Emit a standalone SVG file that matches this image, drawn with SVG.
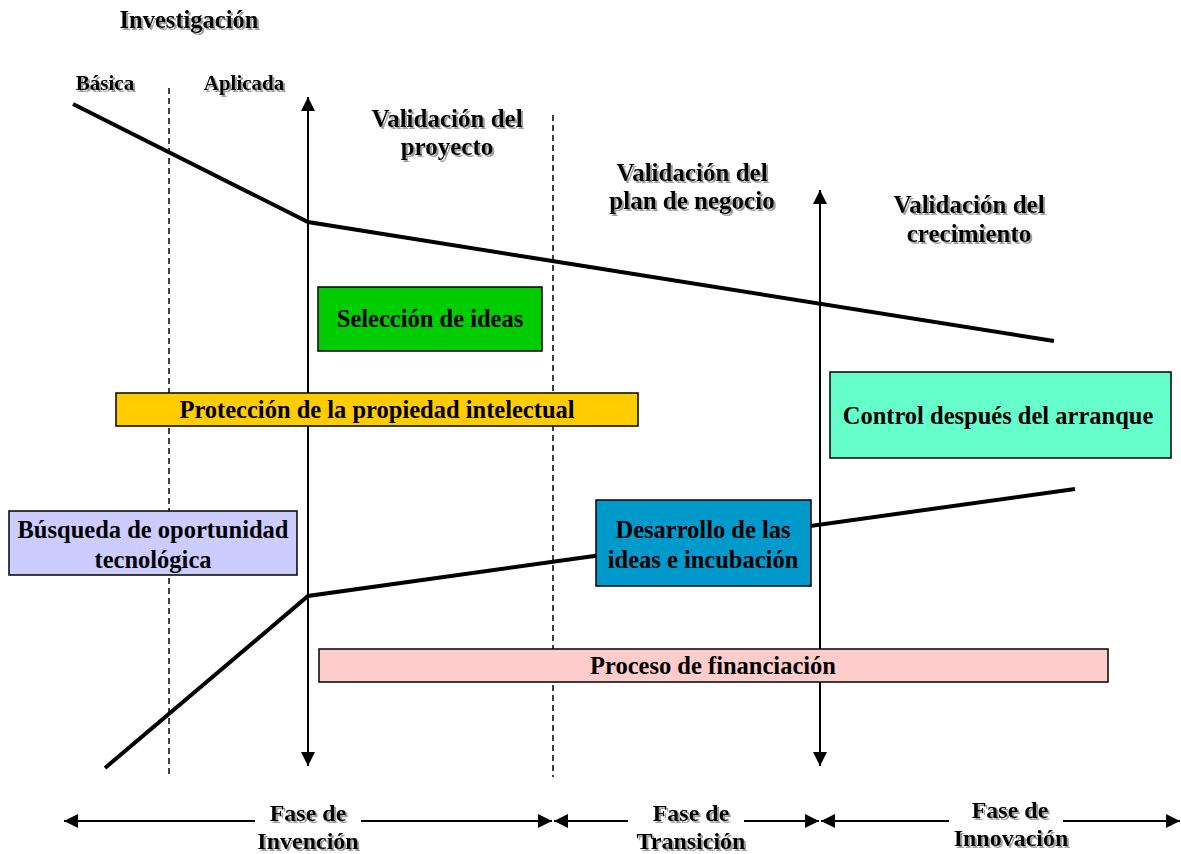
<svg xmlns="http://www.w3.org/2000/svg" width="1181" height="854" viewBox="0 0 1181 854">
<defs>
<style>
.t{font-family:"Liberation Serif","Times New Roman",serif;font-weight:bold;fill:#000;text-anchor:middle}
.sh{filter:url(#shadow)}
.box{stroke:#000;stroke-width:1.5}
.thick{fill:none;stroke:#000;stroke-width:4}
.dash{stroke:#000;stroke-width:1.5;stroke-dasharray:6 4}
.ax{stroke:#000;stroke-width:2;fill:none}
.bt{font-size:24.5px}
</style>
<filter id="shadow" x="-10%" y="-20%" width="130%" height="150%">
<feDropShadow dx="2" dy="2" stdDeviation="0.6" flood-color="#888" flood-opacity="0.8"/>
</filter>
<marker id="ah" viewBox="0 0 10 10" refX="10" refY="5" markerWidth="7" markerHeight="7" markerUnits="strokeWidth" orient="auto-start-reverse">
<path d="M0,0 L10,5 L0,10 z" fill="#000"/>
</marker>
</defs>
<g id="labels">
<text class="t sh" x="189" y="28" font-size="24.5">Investigación</text>
<text class="t sh" x="105" y="90" font-size="21">Básica</text>
<text class="t sh" x="244" y="90" font-size="21">Aplicada</text>
<text class="t sh" x="447" y="127" font-size="25">Validación del</text>
<text class="t sh" x="447" y="155" font-size="25">proyecto</text>
<text class="t sh" x="692" y="181" font-size="25">Validación del</text>
<text class="t sh" x="692" y="209" font-size="25">plan de negocio</text>
<text class="t sh" x="969" y="213" font-size="25">Validación del</text>
<text class="t sh" x="969" y="242" font-size="25">crecimiento</text>
</g>
<g id="connectors">
<line class="dash" x1="169" y1="88" x2="169" y2="778"/>
<line class="dash" x1="553" y1="115" x2="553" y2="777"/>
<line class="ax" x1="308" y1="97" x2="308" y2="766" marker-start="url(#ah)" marker-end="url(#ah)"/>
<line class="ax" x1="820" y1="190" x2="820" y2="766" marker-start="url(#ah)" marker-end="url(#ah)"/>
<polyline class="thick" points="73,104 308,222 1054,341"/>
<polyline class="thick" points="105,768 308,596 1075,489"/>
<line class="ax" x1="64" y1="821" x2="255" y2="821" marker-start="url(#ah)"/>
<line class="ax" x1="361" y1="821" x2="552" y2="821" marker-end="url(#ah)"/>
<line class="ax" x1="554" y1="821" x2="628" y2="821" marker-start="url(#ah)"/>
<line class="ax" x1="744" y1="821" x2="819" y2="821" marker-end="url(#ah)"/>
<line class="ax" x1="821" y1="821" x2="949" y2="821" marker-start="url(#ah)"/>
<line class="ax" x1="1063" y1="821" x2="1180" y2="821" marker-end="url(#ah)"/>
</g>
<g id="seleccion">
<rect class="box" x="318" y="287" width="224" height="64" fill="#00CC00"/>
<text class="t bt" x="430" y="327">Selección de ideas</text>
</g>
<g id="proteccion">
<rect class="box" x="116" y="393" width="522" height="33" fill="#FFCC00"/>
<text class="t bt" x="377" y="418">Protección de la propiedad intelectual</text>
</g>
<g id="control">
<rect class="box" x="830" y="372" width="341" height="86" fill="#66FFCC"/>
<text class="t bt" x="998" y="424">Control después del arranque</text>
</g>
<g id="busqueda">
<rect class="box" x="9" y="511" width="288" height="64" fill="#CCCCFF"/>
<text class="t bt" x="153" y="538">Búsqueda de oportunidad</text>
<text class="t bt" x="153" y="568">tecnológica</text>
</g>
<g id="desarrollo">
<rect class="box" x="596" y="500" width="215" height="86" fill="#0099CC"/>
<text class="t bt" x="703" y="538">Desarrollo de las</text>
<text class="t bt" x="703" y="568">ideas e incubación</text>
</g>
<g id="financiacion">
<rect class="box" x="319" y="649" width="789" height="33" fill="#FFCCCC"/>
<text class="t bt" x="713" y="674">Proceso de financiación</text>
</g>
<g id="fases">
<text class="t sh" x="308" y="821" font-size="24">Fase de</text>
<text class="t sh" x="308" y="849" font-size="24">Invención</text>
<text class="t sh" x="691" y="821" font-size="24">Fase de</text>
<text class="t sh" x="691" y="849" font-size="24">Transición</text>
<text class="t sh" x="1010" y="818" font-size="24">Fase de</text>
<text class="t sh" x="1011" y="846" font-size="24">Innovación</text>
</g>
</svg>
